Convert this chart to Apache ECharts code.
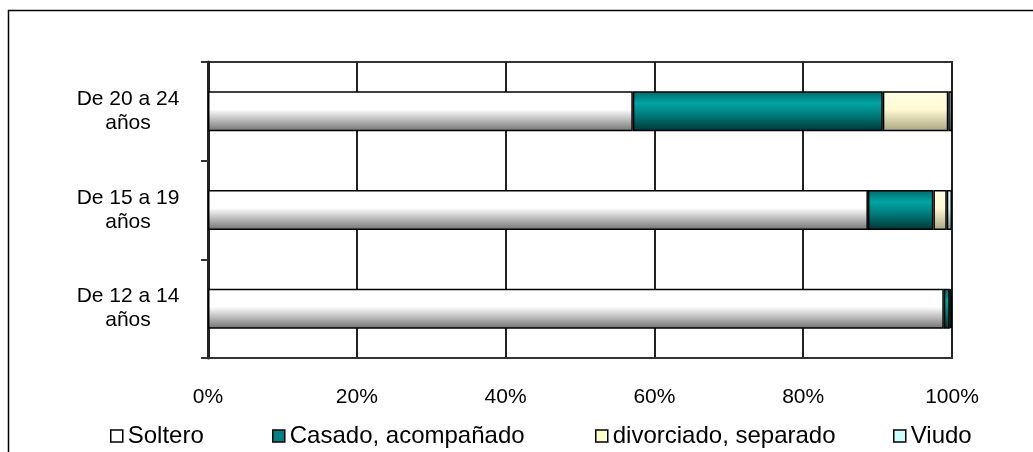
<!DOCTYPE html>
<html>
<head>
<meta charset="utf-8">
<script src="https://cdn.jsdelivr.net/npm/echarts@6/dist/echarts.min.js"></script>
<style>
  html, body { margin: 0; padding: 0; background: #fff; }
  #main { width: 1033px; height: 452px; }
</style>
</head>
<body>
<div id="main"></div>
<script>
let chart = echarts.init(document.querySelector('#main'))

// categorías (de abajo hacia arriba)
const categorias = ['De 12 a 14 años', 'De 15 a 19 años', 'De 20 a 24 años']
const soltero = [98.9, 88.7, 57.1]
const casado = [0.8, 8.8, 33.6]
const divorciado = [0.1, 1.8, 8.8]
const viudo = [0.2, 0.7, 0.5]
const ticksX = [0, 20, 40, 60, 80, 100]

const font = '"Liberation Sans", Arial, sans-serif'

// degradado vertical estilo Excel
function grad (stops) {
  return {
    type: 'linear', x: 0, y: 0, x2: 0, y2: 1,
    colorStops: stops.map(s => ({ offset: s[0], color: s[1] }))
  }
}

const estilos = [
  { name: 'Soltero', data: soltero, flat: '#ffffff',
    color: grad([[0, '#ffffff'], [0.45, '#ffffff'], [1, '#727272']]) },
  { name: 'Casado, acompañado', data: casado, flat: '#008080',
    color: grad([[0, '#006a6a'], [0.3, '#00a5a5'], [0.6, '#007a7a'], [1, '#003434']]) },
  { name: 'divorciado, separado', data: divorciado, flat: '#ffffcc',
    color: grad([[0, '#ffffe6'], [0.45, '#fffad2'], [1, '#aaa480']]) },
  { name: 'Viudo', data: viudo, flat: '#ccffff',
    color: grad([[0, '#e0ffff'], [0.45, '#ccffff'], [1, '#7aa0a0']]) }
]

const posLeyenda = [110, 272, 595, 893]

let option = {
  animation: false,
  textStyle: { fontFamily: font },
  graphic: [{
    type: 'rect',
    shape: { x: 8.5, y: 10.5, width: 1100, height: 500 },
    style: { fill: 'none', stroke: '#000', lineWidth: 1.5 },
    silent: true
  }],
  grid: {
    left: 208, right: 81, top: 62, bottom: 94,
    show: true, borderColor: '#333', borderWidth: 2
  },
  legend: estilos.map((s, i) => ({
    left: posLeyenda[i],
    top: 424,
    padding: 0,
    icon: 'rect',
    itemWidth: 12,
    itemHeight: 12,
    itemGap: 0,
    selectedMode: false,
    textStyle: { fontSize: 24, color: '#000', fontFamily: font },
    data: [{ name: s.name, itemStyle: { color: s.flat, borderColor: '#000', borderWidth: 1.5 } }]
  })),
  xAxis: {
    type: 'value',
    min: 0, max: 100, interval: 20,
    axisLine: { show: true, lineStyle: { color: '#333', width: 2 } },
    axisTick: { show: false },
    axisLabel: {
      margin: 29, fontSize: 21, color: '#000', fontFamily: font,
      formatter: v => ticksX.includes(v) ? v + '%' : ''
    },
    splitLine: { show: true, lineStyle: { color: '#222', width: 2 } }
  },
  yAxis: {
    type: 'category',
    data: categorias,
    axisLine: { show: true, lineStyle: { color: '#222', width: 3 } },
    axisTick: { show: true, length: 7, lineStyle: { color: '#333', width: 2 } },
    axisLabel: {
      margin: 80, align: 'center', fontSize: 21, lineHeight: 24, color: '#000', fontFamily: font,
      formatter: v => v.replace(' años', '\naños')
    },
    splitLine: { show: false }
  },
  series: estilos.map(s => ({
    type: 'bar',
    name: s.name,
    stack: 'total',
    barWidth: 40,
    data: s.data,
    itemStyle: { color: s.color, borderColor: '#000', borderWidth: 1.5 }
  }))
}

chart.setOption(option)
</script>
</body>
</html>
